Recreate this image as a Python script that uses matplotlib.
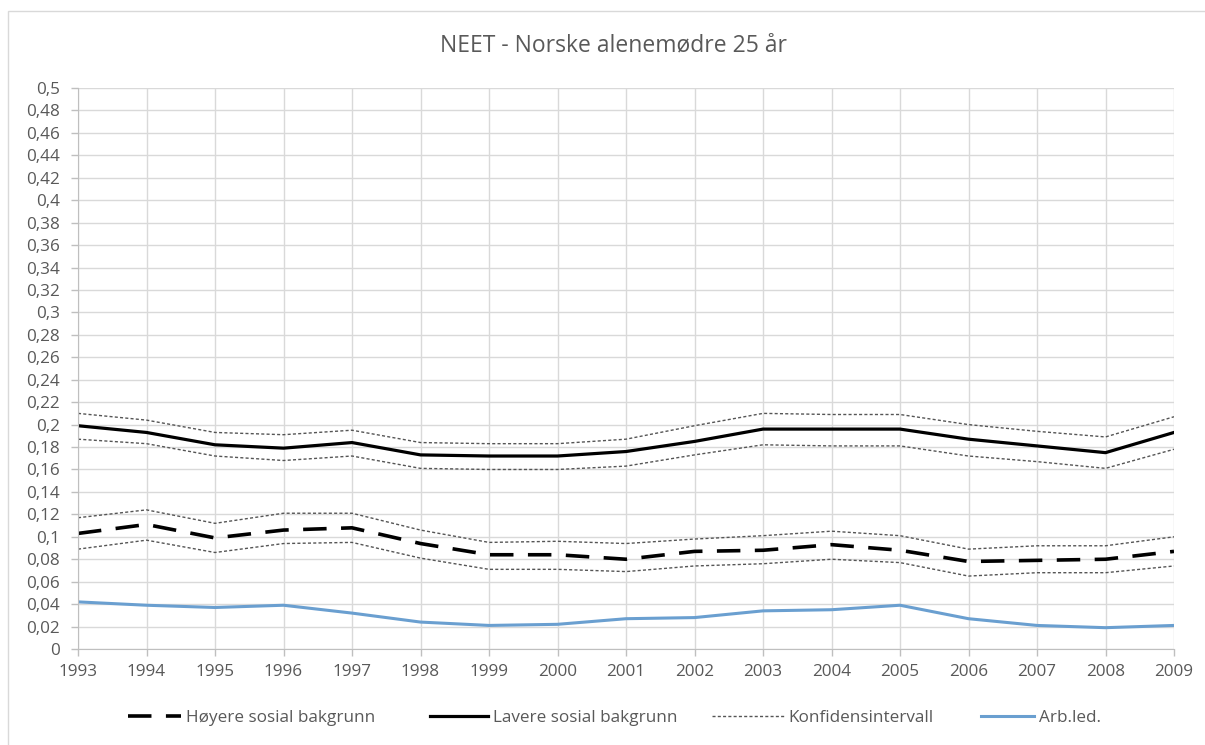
import numpy as np
import matplotlib.pyplot as plt
from matplotlib.patches import Rectangle

# ── Data ──────────────────────────────────────────────────────────────────
years = list(range(1993, 2010))

hoyere = [0.103, 0.111, 0.099, 0.106, 0.108, 0.094, 0.084, 0.084, 0.080, 0.087,
          0.088, 0.093, 0.088, 0.078, 0.079, 0.080, 0.087]
hoyere_hi = [0.117, 0.124, 0.112, 0.121, 0.121, 0.106, 0.095, 0.096, 0.094, 0.098,
             0.101, 0.105, 0.101, 0.089, 0.092, 0.092, 0.100]
hoyere_lo = [0.089, 0.097, 0.086, 0.094, 0.095, 0.081, 0.071, 0.071, 0.069, 0.074,
             0.076, 0.080, 0.077, 0.065, 0.068, 0.068, 0.074]

lavere = [0.199, 0.193, 0.182, 0.179, 0.184, 0.173, 0.172, 0.172, 0.176, 0.185,
          0.196, 0.196, 0.196, 0.187, 0.181, 0.175, 0.193]
lavere_hi = [0.210, 0.204, 0.193, 0.191, 0.195, 0.184, 0.183, 0.183, 0.187, 0.199,
             0.210, 0.209, 0.209, 0.200, 0.194, 0.189, 0.207]
lavere_lo = [0.187, 0.183, 0.172, 0.168, 0.172, 0.161, 0.160, 0.160, 0.163, 0.173,
             0.182, 0.181, 0.181, 0.172, 0.167, 0.161, 0.178]

arb_led = [0.042, 0.039, 0.037, 0.039, 0.032, 0.024, 0.021, 0.022, 0.027, 0.028,
           0.034, 0.035, 0.039, 0.027, 0.021, 0.019, 0.021]

yticks = np.round(np.arange(0, 0.501, 0.02), 2)

legend_labels = ['Høyere sosial bakgrunn', 'Lavere sosial bakgrunn',
                 'Konfidensintervall', 'Arb.led.']

# ── Figure ────────────────────────────────────────────────────────────────
plt.rcParams['font.family'] = ['Open Sans', 'DejaVu Sans']
W, H = 1205, 745
fig = plt.figure(figsize=(W / 100, H / 100), dpi=100)
ax = fig.add_axes([78 / W, 1 - 649 / H, (1174 - 78) / W, (649 - 88) / H])

# chart-area border
fig.patches.append(Rectangle((8 / W, -0.01), 1.0, 1 - 11 / H + 0.01,
                             transform=fig.transFigure, fill=False,
                             edgecolor='#d9d9d9', linewidth=1))

ci_kw = dict(color='#555555', linewidth=1.0, linestyle=(0, (2.2, 1.6)))
hoy_kw = dict(color='black', linewidth=2.6, linestyle=(0, (6.5, 4)))
lav_kw = dict(color='black', linewidth=2.3)
arb_kw = dict(color='#6a9fd0', linewidth=2.2)

ax.plot(years, lavere_hi, **ci_kw)
ax.plot(years, lavere_lo, **ci_kw)
ax.plot(years, hoyere_hi, **ci_kw)
ax.plot(years, hoyere_lo, **ci_kw)
ax.plot(years, arb_led, **arb_kw)
ax.plot(years, lavere, **lav_kw)
ax.plot(years, hoyere, **hoy_kw)

# ── Axes & cosmetics ──────────────────────────────────────────────────────
ax.set_xlim(1993, 2009)
ax.set_ylim(0, 0.5)
ax.set_xticks(years)
ax.set_yticks(yticks)
ax.set_yticklabels([('%g' % v).replace('.', ',') for v in yticks])
ax.grid(True, color='#d9d9d9', linewidth=1)
ax.set_axisbelow(True)
for side in ['top', 'right']:
    ax.spines[side].set_visible(False)
for side in ['left', 'bottom']:
    ax.spines[side].set_color('#bfbfbf')
ax.tick_params(axis='both', colors='#bfbfbf', length=5, width=1,
               labelcolor='#595959', labelsize=12.3)
ax.tick_params(axis='x', pad=6)
ax.tick_params(axis='y', pad=8)

fig.text(613 / W, 1 - 45 / H, 'NEET - Norske alenemødre 25 år', ha='center',
         va='center', fontsize=16.5, color='#595959')

# ── Legend (one per entry, placed like the original) ─────────────────────
handles = []
for kw in [hoy_kw, lav_kw, ci_kw, arb_kw]:
    h, = ax.plot([], [], **kw)
    handles.append(h)
leg_x = [128, 430, 712, 981]
leg_len = [3.1, 3.4, 4.2, 3.1]
for h, lab, x0, hl in zip(handles, legend_labels, leg_x, leg_len):
    fig.legend([h], [lab], loc='center left', bbox_to_anchor=(x0 / W, 1 - 718 / H),
               frameon=False, fontsize=12.3, labelcolor='#595959',
               handlelength=hl, handletextpad=0.3, borderpad=0, borderaxespad=0)

plt.savefig('out.png', dpi=100, facecolor='white')
